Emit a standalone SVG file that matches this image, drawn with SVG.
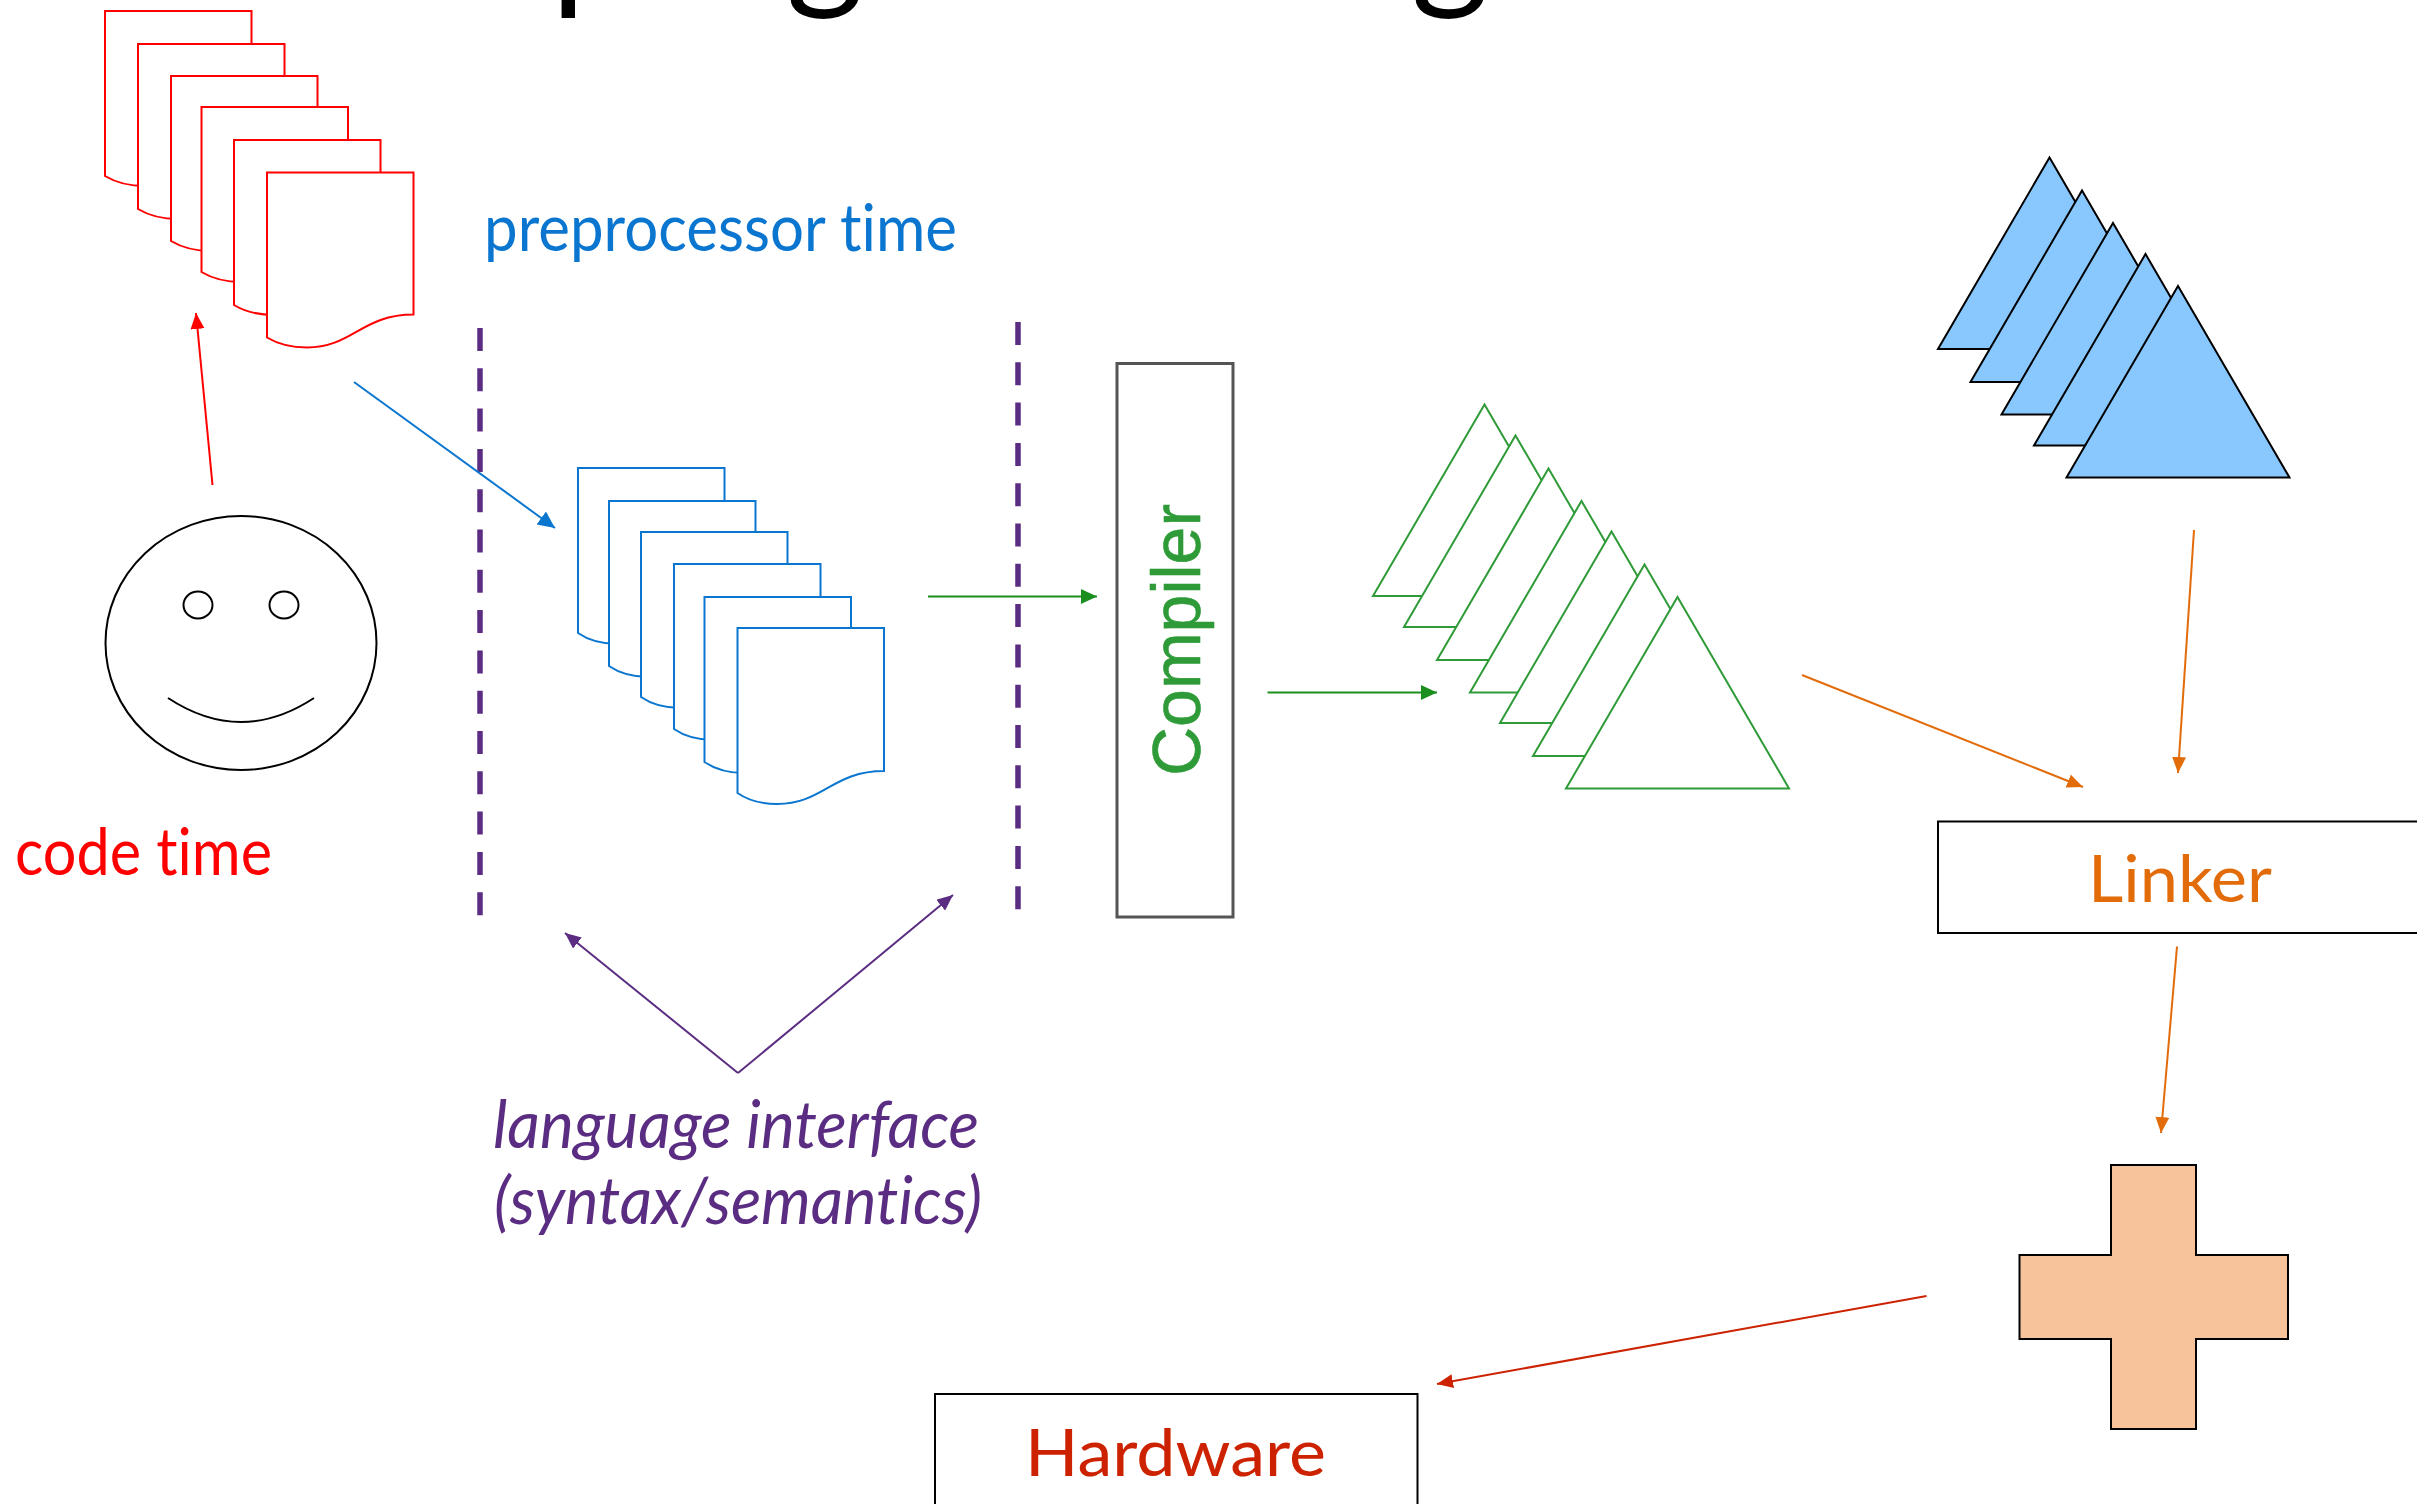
<svg xmlns="http://www.w3.org/2000/svg" width="2417" height="1504" viewBox="0 0 2417 1504">
<style>
text{font-family:"Lato","Open Sans",sans-serif;font-variant-ligatures:none}
.title{font-size:150px;fill:#000}
.lbl{font-size:66px}
.line{fill:none;stroke-width:2}
.doc-r{fill:#fff;stroke:#f00;stroke-width:2}
.doc-b{fill:#fff;stroke:#0b76d0;stroke-width:2}
.tri-g{fill:#fff;stroke:#2f9b38;stroke-width:2}
.tri-b{fill:#88c8ff;stroke:#000;stroke-width:2}
.face{fill:#fff;stroke:#000;stroke-width:2}
.box{fill:#fff;stroke:#000;stroke-width:2}
.guide{fill:none;stroke:#5b2d82;stroke-width:5.5;stroke-dasharray:23 17.3}
</style>
<defs>
<path id="doc" d="M0 0H146.500V142C95 142 85 175 40 175C25 175 10 171 0 165Z"/>
<path id="doc2" d="M0 0H146.500V143C95 143 85 176 40 176C25 176 10 172 0 165Z"/>
<path id="tri" d="M0 191.500L111.500 0L223 191.500Z"/>
<marker id="m-red" markerUnits="userSpaceOnUse" markerWidth="18" markerHeight="16" refX="16" refY="7" orient="auto"><path d="M0 0L16 7L0 14Z" fill="#f00"/></marker>
<marker id="m-blue" markerUnits="userSpaceOnUse" markerWidth="20" markerHeight="18" refX="17" refY="8" orient="auto"><path d="M0 0L17 8L0 16Z" fill="#0b76d0"/></marker>
<marker id="m-green" markerUnits="userSpaceOnUse" markerWidth="18" markerHeight="16" refX="16" refY="7.500" orient="auto"><path d="M0 0L16 7.500L0 15Z" fill="#1a8f1f"/></marker>
<marker id="m-purple" markerUnits="userSpaceOnUse" markerWidth="18" markerHeight="16" refX="16" refY="7" orient="auto"><path d="M0 0L16 7L0 14Z" fill="#5b2d82"/></marker>
<marker id="m-orange" markerUnits="userSpaceOnUse" markerWidth="18" markerHeight="16" refX="16" refY="7" orient="auto"><path d="M0 0L16 7L0 14Z" fill="#e36c0a"/></marker>
<marker id="m-dred" markerUnits="userSpaceOnUse" markerWidth="18" markerHeight="16" refX="16" refY="7" orient="auto"><path d="M0 0L16 7L0 14Z" fill="#cc2200"/></marker>
</defs>

<g id="title">
<text class="title" x="551" y="-8">p</text>
<text class="title" x="786" y="-8">g</text>
<text class="title" x="1411" y="-8">g</text>
</g>

<g id="source-files">
<use href="#doc" class="doc-r" x="105" y="11"/>
<use href="#doc" class="doc-r" x="138" y="44"/>
<use href="#doc" class="doc-r" x="171" y="76"/>
<use href="#doc" class="doc-r" x="201.500" y="107"/>
<use href="#doc" class="doc-r" x="234" y="140"/>
<use href="#doc" class="doc-r" x="267" y="172.500"/>
</g>

<g id="preprocessed-files">
<use href="#doc2" class="doc-b" x="578" y="468"/>
<use href="#doc2" class="doc-b" x="609" y="501"/>
<use href="#doc2" class="doc-b" x="641" y="532"/>
<use href="#doc2" class="doc-b" x="674" y="564"/>
<use href="#doc2" class="doc-b" x="704.500" y="597"/>
<use href="#doc2" class="doc-b" x="737.500" y="628"/>
</g>

<g id="face">
<ellipse class="face" cx="241" cy="643" rx="135.500" ry="127"/>
<ellipse class="face" cx="198" cy="605" rx="14.500" ry="13.500"/>
<ellipse class="face" cx="284" cy="605" rx="14.500" ry="13.500"/>
<path d="M168 698Q241 746 314 698" fill="none" stroke="#000" stroke-width="2"/>
</g>

<g id="code-time"><text class="lbl" x="15" y="875" fill="#f00" textLength="257" lengthAdjust="spacingAndGlyphs">code time</text></g>
<g id="preprocessor-time"><text class="lbl" x="484" y="251" fill="#0b76d0" textLength="473" lengthAdjust="spacingAndGlyphs">preprocessor time</text></g>

<g id="guide-left"><line class="guide" x1="480" y1="328" x2="480" y2="916"/></g>
<g id="guide-right"><line class="guide" x1="1018" y1="322" x2="1018" y2="910"/></g>

<g id="compiler">
<rect x="1117" y="363.500" width="116" height="553.500" fill="#fff" stroke="#555" stroke-width="3"/>
<text transform="translate(1200 776) rotate(-90)" font-size="68" fill="#2f9b38" stroke="#2f9b38" stroke-width="0.6" style="font-family:'Liberation Sans',Arial,sans-serif">Compiler</text>
</g>

<g id="object-files">
<use href="#tri" class="tri-g" x="1373" y="404.500"/>
<use href="#tri" class="tri-g" x="1404" y="435.500"/>
<use href="#tri" class="tri-g" x="1437" y="468.500"/>
<use href="#tri" class="tri-g" x="1470" y="501"/>
<use href="#tri" class="tri-g" x="1500" y="531.500"/>
<use href="#tri" class="tri-g" x="1533" y="564.500"/>
<use href="#tri" class="tri-g" x="1566" y="597"/>
</g>

<g id="library-files">
<use href="#tri" class="tri-b" x="1938" y="157.500"/>
<use href="#tri" class="tri-b" x="1970.500" y="190.500"/>
<use href="#tri" class="tri-b" x="2001.500" y="223"/>
<use href="#tri" class="tri-b" x="2034" y="254"/>
<use href="#tri" class="tri-b" x="2066.500" y="286"/>
</g>

<g id="linker">
<rect class="box" x="1938" y="821.500" width="500" height="111.500"/>
<text class="lbl" x="2088" y="902" fill="#e36c0a" textLength="184" lengthAdjust="spacingAndGlyphs">Linker</text>
</g>

<g id="executable">
<path d="M2111 1165H2196V1255H2288V1339H2196V1429H2111V1339H2019.500V1255H2111Z" fill="#f7c39b" stroke="#000" stroke-width="2"/>
</g>

<g id="hardware">
<rect class="box" x="935" y="1394" width="482.500" height="130"/>
<text class="lbl" x="1025" y="1476" fill="#cc2200" textLength="301" lengthAdjust="spacingAndGlyphs">Hardware</text>
</g>

<g id="language-interface" fill="#5b2d82">
<text class="lbl" x="493" y="1148" font-style="italic" textLength="486" lengthAdjust="spacingAndGlyphs">language interface</text>
<text class="lbl" x="494" y="1224" font-style="italic" textLength="488" lengthAdjust="spacingAndGlyphs">(syntax/semantics)</text>
</g>

<g id="connectors">
<line class="line" stroke="#f00" x1="212.500" y1="485" x2="196" y2="313" marker-end="url(#m-red)"/>
<line class="line" stroke="#0b76d0" x1="354" y1="382" x2="555" y2="528" marker-end="url(#m-blue)"/>
<line class="line" stroke="#1a8f1f" x1="928" y1="596.500" x2="1097" y2="596.500" marker-end="url(#m-green)"/>
<line class="line" stroke="#1a8f1f" x1="1267.500" y1="692.500" x2="1437" y2="692.500" marker-end="url(#m-green)"/>
<line class="line" stroke="#5b2d82" x1="738" y1="1073" x2="565" y2="933" marker-end="url(#m-purple)"/>
<line class="line" stroke="#5b2d82" x1="738" y1="1073" x2="953" y2="895" marker-end="url(#m-purple)"/>
<line class="line" stroke="#e36c0a" x1="1802" y1="675" x2="2083" y2="787" marker-end="url(#m-orange)"/>
<line class="line" stroke="#e36c0a" x1="2194" y1="530" x2="2178" y2="773" marker-end="url(#m-orange)"/>
<line class="line" stroke="#e36c0a" x1="2177" y1="946.500" x2="2161" y2="1133" marker-end="url(#m-orange)"/>
<line class="line" stroke="#cc2200" x1="1926.500" y1="1296" x2="1437" y2="1384" marker-end="url(#m-dred)"/>
</g>
</svg>
